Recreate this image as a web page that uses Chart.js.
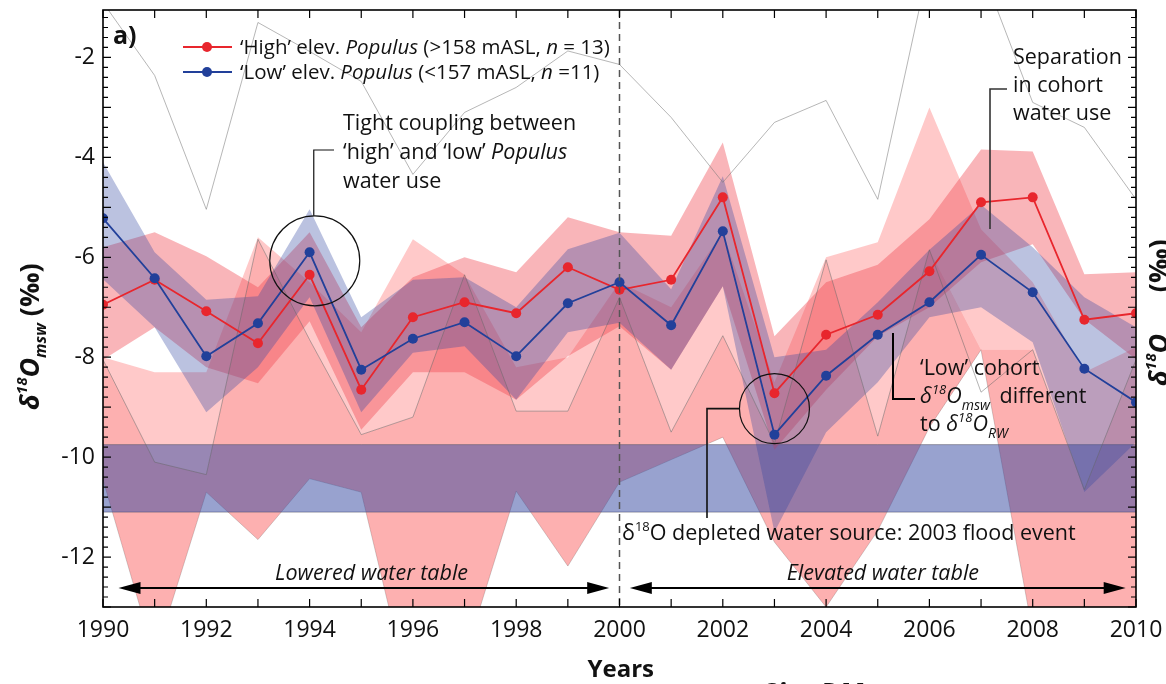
<!DOCTYPE html>
<html>
<head>
<meta charset="utf-8">
<script src="https://cdn.jsdelivr.net/npm/chart.js@4.4.1/dist/chart.umd.min.js"></script>
<style>
    html, body { margin: 0; padding: 0; background: #fff; }
    #wrap { width: 1166px; height: 684px; position: relative; overflow: hidden; }
</style>
</head>
<body>
<div id="wrap"><canvas id="myChart" width="1166" height="684"></canvas></div>
<script>
// years on the x axis
const years = [1990, 1991, 1992, 1993, 1994, 1995, 1996, 1997, 1998, 1999, 2000,
               2001, 2002, 2003, 2004, 2005, 2006, 2007, 2008, 2009, 2010];

// mean d18O of 'high' and 'low' Populus
const highMean = [-6.95, -6.45, -7.08, -7.72, -6.35, -8.65, -7.2, -6.9, -7.12, -6.2, -6.65,
                  -6.45, -4.8, -8.72, -7.55, -7.15, -6.28, -4.9, -4.8, -7.25, -7.12];
const lowMean = [-5.22, -6.42, -7.98, -7.32, -5.9, -8.25, -7.63, -7.3, -7.98, -6.92, -6.5,
                 -7.36, -5.48, -9.55, -8.37, -7.55, -6.9, -5.95, -6.7, -8.23, -8.9];

// band around the 'high' cohort
const highUpper = [-5.8, -5.5, -5.98, -6.6, -5.5, -7.4, -6.4, -6.0, -6.3, -5.2, -5.5,
                   -5.57, -3.7, -7.58, -6.5, -6.15, -5.24, -3.84, -3.88, -6.34, -6.3];
const highLower = [-8.05, -7.4, -8.2, -8.52, -7.28, -9.45, -8.3, -8.3, -8.85, -7.98, -7.38,
                   -8.25, -6.58, -9.85, -8.65, -7.58, -7.0, -6.1, -5.74, -7.24, -8.04];

// band around the 'low' cohort
const lowUpper = [-4.1, -5.9, -6.85, -6.78, -5.04, -7.2, -6.45, -6.4, -7.0, -5.84, -5.51,
                  -6.64, -4.38, -8.0, -7.85, -6.9, -5.85, -4.95, -5.8, -6.8, -7.4];
const lowLower = [-6.44, -7.4, -9.1, -8.2, -6.8, -9.1, -7.91, -7.78, -8.85, -7.5, -7.31,
                  -8.25, -6.58, -11.5, -9.5, -8.5, -7.2, -7.0, -7.7, -10.7, -9.7];

// wide pink ranges
const pinkTop = [-8.0, -8.3, -8.3, -5.6, -6.5, -7.5, -5.64, -6.35, -8.2, -8.0, -6.5,
                 -7.0, -5.5, -8.5, -6.0, -5.7, -3.0, -5.44, -6.5, -8.3, -7.8];
const salmonTop = [-8.05, -10.1, -10.35, -5.64, -7.65, -9.55, -9.2, -6.35, -9.08, -9.08, -6.8,
                   -9.5, -7.57, -9.73, -6.05, -9.58, -5.85, -7.85, -7.85, -10.65, -8.05];
const pinkBottom = [-10.45, -14, -10.7, -11.65, -10.43, -10.7, -15, -14, -10.68, -12.18, -10.5,
                    -10.05, -9.6, -11.7, -13.0, -11.47, -9.4, -7.85, -13.5, -15, -13.5];

// thin grey lines
const greyTop = [-0.9, -2.36, -5.04, -1.3, -1.88, -2.48, -4.34, -3.1, -2.6, -1.87, -2.14,
                 -3.2, -4.5, -3.3, -2.86, -4.84, -0.1, -0.2, -2.9, -3.4, -4.84];
const greyMid = [-8.05, -10.1, -10.35, -5.64, -7.65, -9.55, -9.2, -6.35, -9.08, -9.08, -6.8,
                 -9.5, -7.57, -9.73, -6.05, -9.58, -5.85, -8.7, -7.85, -10.65, -8.05];

// river water range (d18O_RW)
const riverRange = [-9.75, -11.1];

const yTicks = [-2, -4, -6, -8, -10, -12];
const xTicks = [1990, 1992, 1994, 1996, 1998, 2000, 2002, 2004, 2006, 2008, 2010];

const FONT = "'Open Sans', 'DejaVu Sans', sans-serif";
const RED = '#e8262d';
const BLUE = '#22409a';

function xy(arr) {
    return arr.map((v, i) => ({x: years[i], y: v}));
}

const datasets = [];
function add(ds) {
    datasets.push(Object.assign({pointRadius: 0, borderWidth: 0, fill: false, clip: 0, tension: 0}, ds));
    return datasets.length - 1;
}

// bottom layers first (higher order = drawn earlier)
const iPinkBottom = add({data: xy(pinkBottom), borderColor: 'rgba(110,110,110,0.45)', borderWidth: 0.8, order: 20});
const iSalmonTop = add({data: xy(salmonTop), order: 19,
    fill: {target: iPinkBottom}, backgroundColor: 'rgba(250,90,90,0.48)'});
add({data: xy(pinkTop), order: 18,
    fill: {target: iSalmonTop}, backgroundColor: 'rgba(255,90,90,0.33)'});

const iRiverBot = add({data: [{x: 1990, y: riverRange[1]}, {x: 2010, y: riverRange[1]}],
    borderColor: 'rgba(90,90,110,0.6)', borderWidth: 1, order: 17});
add({data: [{x: 1990, y: riverRange[0]}, {x: 2010, y: riverRange[0]}],
    borderColor: 'rgba(90,90,110,0.6)', borderWidth: 1, order: 16,
    fill: {target: iRiverBot}, backgroundColor: 'rgba(50,70,160,0.5)'});

const iHighLower = add({data: xy(highLower), order: 15});
add({data: xy(highUpper), order: 14, fill: {target: iHighLower}, backgroundColor: 'rgba(240,70,80,0.4)'});

const iLowLower = add({data: xy(lowLower), order: 13});
add({data: xy(lowUpper), order: 12, fill: {target: iLowLower}, backgroundColor: 'rgba(50,70,160,0.33)'});

add({data: xy(greyMid), borderColor: 'rgba(100,100,100,0.55)', borderWidth: 0.9, order: 11});
add({data: xy(greyTop), borderColor: 'rgba(120,120,120,0.6)', borderWidth: 0.9, order: 10});

add({label: 'High', data: xy(highMean), borderColor: RED, borderWidth: 1.8, order: 2,
    pointRadius: 5, pointBackgroundColor: RED, pointBorderWidth: 0});
add({label: 'Low', data: xy(lowMean), borderColor: BLUE, borderWidth: 1.8, order: 1,
    pointRadius: 5, pointBackgroundColor: BLUE, pointBorderWidth: 0});

// draws text made of pieces with different fonts / offsets
function richText(ctx, x, y, parts) {
    let cx = x;
    parts.forEach(p => {
        ctx.font = p.f;
        ctx.fillText(p.t, cx, y + (p.dy || 0));
        cx += ctx.measureText(p.t).width + (p.gap || 0);
    });
    return cx;
}

function arrow(ctx, x0, x1, y) {
    ctx.beginPath();
    ctx.moveTo(x0 + 12, y);
    ctx.lineTo(x1 - 12, y);
    ctx.lineWidth = 2;
    ctx.stroke();
    [[x0, 1], [x1, -1]].forEach(([x, d]) => {
        ctx.beginPath();
        ctx.moveTo(x, y);
        ctx.lineTo(x + d * 22, y - 6);
        ctx.lineTo(x + d * 22, y + 6);
        ctx.closePath();
        ctx.fill();
    });
}

const decor = {
    id: 'decor',
    afterDatasetsDraw(chart) {
        const ctx = chart.ctx;
        const xs = chart.scales.x, ys = chart.scales.y;
        const a = chart.chartArea;
        ctx.save();

        // dashed line at 2000
        ctx.strokeStyle = '#555';
        ctx.lineWidth = 1.5;
        ctx.setLineDash([7, 5]);
        ctx.beginPath();
        ctx.moveTo(xs.getPixelForValue(2000), a.top);
        ctx.lineTo(xs.getPixelForValue(2000), a.bottom);
        ctx.stroke();
        ctx.setLineDash([]);

        // white outside the plot (hides clipped overflow)
        ctx.fillStyle = '#fff';
        ctx.fillRect(0, a.bottom + 1, chart.width, chart.height - a.bottom);
        ctx.fillRect(0, 0, chart.width, a.top - 1);

        // frame and inside ticks
        ctx.strokeStyle = '#000';
        ctx.lineWidth = 1.6;
        ctx.strokeRect(a.left, a.top, a.right - a.left, a.bottom - a.top);
        ctx.lineWidth = 1.2;
        ctx.beginPath();
        years.forEach(yr => {
            const px = xs.getPixelForValue(yr);
            ctx.moveTo(px, a.bottom); ctx.lineTo(px, a.bottom - 8);
            ctx.moveTo(px, a.top); ctx.lineTo(px, a.top + 8);
        });
        for (let v = -13; v <= -1.05; v += 0.2) {
            const py = ys.getPixelForValue(v);
            const major = Math.abs(v - Math.round(v)) < 0.01;
            const len = major ? 8 : 5;
            ctx.moveTo(a.left, py); ctx.lineTo(a.left + len, py);
            ctx.moveTo(a.right, py); ctx.lineTo(a.right - len, py);
        }
        ctx.stroke();

        // tick labels
        ctx.fillStyle = '#111';
        ctx.font = '23px ' + FONT;
        ctx.textAlign = 'right';
        ctx.textBaseline = 'middle';
        yTicks.forEach(v => ctx.fillText(String(v), a.left - 8, ys.getPixelForValue(v)));
        ctx.textAlign = 'center';
        ctx.textBaseline = 'alphabetic';
        xTicks.forEach(v => ctx.fillText(String(v), xs.getPixelForValue(v), a.bottom + 30));

        // axis titles
        ctx.textAlign = 'left';
        ctx.font = 'bold 24px ' + FONT;
        ctx.fillText('Years', xs.getPixelForValue(2000) - 32, 677);
        ctx.font = 'italic bold 28px ' + FONT;
        ctx.fillText('Site DM', 762, 704);

        const title = [
            {t: 'δ', f: 'italic bold 27px ' + FONT},
            {t: '18', f: 'italic bold 15px ' + FONT, dy: -12},
            {t: 'O', f: 'italic bold 27px ' + FONT},
            {t: 'msw', f: 'italic bold 16px ' + FONT, dy: 7},
            {t: ' (‰)', f: 'bold 27px ' + FONT}
        ];
        ctx.save();
        ctx.translate(39, 410);
        ctx.rotate(-Math.PI / 2);
        richText(ctx, 0, 0, title);
        ctx.restore();
        ctx.save();
        ctx.translate(1168, 386);
        ctx.rotate(-Math.PI / 2);
        richText(ctx, 0, 0, title);
        ctx.restore();

        // panel letter
        ctx.font = 'bold 25px ' + FONT;
        ctx.fillText('a)', 113, 44);

        // legend
        const lf = '20.5px ' + FONT, lfi = 'italic 20.5px ' + FONT;
        [[RED, 47, '‘High’ elev. ', '(>158 mASL, ', ' = 13)'],
         [BLUE, 72, '‘Low’ elev. ', '(<157 mASL, ', ' =11)']].forEach(([c, y, t1, t2, t3]) => {
            ctx.strokeStyle = c; ctx.fillStyle = c; ctx.lineWidth = 2;
            ctx.beginPath(); ctx.moveTo(183, y); ctx.lineTo(232, y); ctx.stroke();
            ctx.beginPath(); ctx.arc(207, y, 5, 0, Math.PI * 2); ctx.fill();
            ctx.fillStyle = '#111';
            richText(ctx, 240, y + 7, [
                {t: t1, f: lf},
                {t: 'Populus', f: lfi},
                {t: ' ' + t2, f: lf},
                {t: 'n', f: lfi},
                {t: t3, f: lf}
            ]);
        });

        // annotations
        ctx.fillStyle = '#111';
        ctx.strokeStyle = '#111';
        const reg = '21.5px ' + FONT, ita = 'italic 21.5px ' + FONT;
        const sup = '13px ' + FONT, supi = 'italic 13px ' + FONT, subi = 'italic 14px ' + FONT;
        richText(ctx, 343, 130, [{t: 'Tight coupling between', f: reg}]);
        richText(ctx, 343, 159, [{t: '‘high’ and ‘low’ ', f: reg}, {t: 'Populus', f: ita}]);
        richText(ctx, 343, 188, [{t: 'water use', f: reg}]);

        richText(ctx, 1013, 64, [{t: 'Separation', f: reg}]);
        richText(ctx, 1013, 92, [{t: 'in cohort', f: reg}]);
        richText(ctx, 1013, 120, [{t: 'water use', f: reg}]);

        richText(ctx, 920, 375, [{t: '‘Low’ cohort', f: reg}]);
        richText(ctx, 920, 403, [
            {t: 'δ', f: ita}, {t: '18', f: supi, dy: -9},
            {t: 'O', f: ita}, {t: 'msw', f: subi, dy: 7, gap: 4},
            {t: ' different', f: reg}]);
        richText(ctx, 920, 431, [
            {t: 'to ', f: reg}, {t: 'δ', f: ita}, {t: '18', f: supi, dy: -9},
            {t: 'O', f: ita}, {t: 'RW', f: subi, dy: 7}]);

        richText(ctx, 622, 540, [
            {t: 'δ', f: reg}, {t: '18', f: sup, dy: -9},
            {t: 'O depleted water source: 2003 flood event', f: reg}]);

        ctx.font = 'italic 21.5px ' + FONT;
        ctx.textAlign = 'center';
        ctx.fillText('Lowered water table', xs.getPixelForValue(1995.2), 580);
        ctx.fillText('Elevated water table', xs.getPixelForValue(2005.1), 580);
        ctx.textAlign = 'left';

        // arrows
        ctx.fillStyle = '#000'; ctx.strokeStyle = '#000';
        arrow(ctx, xs.getPixelForValue(1990.3), xs.getPixelForValue(1999.8), 588);
        arrow(ctx, xs.getPixelForValue(2000.2), xs.getPixelForValue(2009.8), 588);

        // circles and leader lines
        ctx.strokeStyle = '#111';
        ctx.lineWidth = 1.2;
        const c1x = xs.getPixelForValue(1994.1), c1y = ys.getPixelForValue(-6.07);
        ctx.beginPath(); ctx.arc(c1x, c1y, 45, 0, Math.PI * 2); ctx.stroke();
        ctx.beginPath();
        ctx.moveTo(c1x - 1, c1y - 45); ctx.lineTo(c1x - 1, 150); ctx.lineTo(334, 150);
        ctx.stroke();

        const c2x = xs.getPixelForValue(2003), c2y = ys.getPixelForValue(-9.03);
        ctx.beginPath(); ctx.arc(c2x, c2y, 35, 0, Math.PI * 2); ctx.stroke();
        ctx.lineWidth = 1.6;
        ctx.beginPath();
        ctx.moveTo(c2x - 35, c2y); ctx.lineTo(707, c2y); ctx.lineTo(707, 518);
        ctx.stroke();

        ctx.strokeStyle = '#333';
        ctx.beginPath();
        ctx.moveTo(990, 229); ctx.lineTo(990, 89); ctx.lineTo(1007, 89);
        ctx.stroke();
        ctx.strokeStyle = '#000';
        ctx.lineWidth = 2;
        ctx.beginPath();
        ctx.moveTo(893, 333); ctx.lineTo(893, 399); ctx.lineTo(915, 399);
        ctx.stroke();

        ctx.restore();
    }
};

const ctx = document.getElementById('myChart').getContext('2d');
const myChart = new Chart(ctx, {
    type: 'line',
    data: {datasets: datasets},
    options: {
        responsive: false,
        animation: false,
        layout: {padding: {left: 103, right: 30, top: 10, bottom: 77}},
        plugins: {legend: {display: false}, tooltip: {enabled: false}},
        scales: {
            x: {type: 'linear', min: 1990, max: 2010, display: false},
            y: {type: 'linear', min: -13, max: -1.05, display: false}
        }
    },
    plugins: [decor]
});
</script>
</body>
</html>
